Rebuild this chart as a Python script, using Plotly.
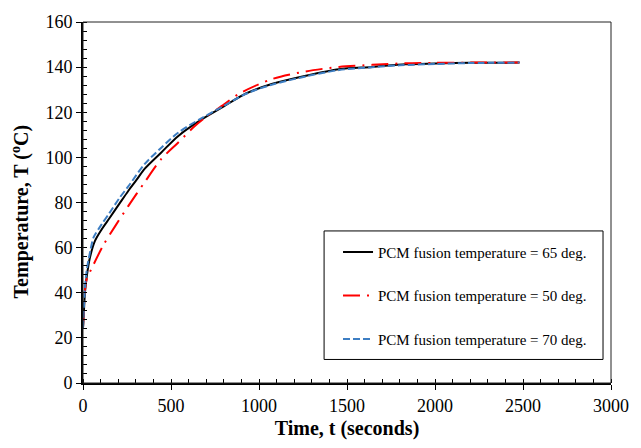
import plotly.graph_objects as go

# Data
t_65 = [0, 2, 6, 11, 21, 40, 68, 106, 150, 209, 256, 304, 351, 445, 540, 672, 800, 926, 1077, 1266, 1455, 1643, 1832, 2000, 2200, 2480]
T_65 = [24.5, 27, 33, 40, 47, 55.8, 63, 68.1, 73, 79.7, 85, 90, 95, 102.2, 109.4, 116.7, 122.6, 128.3, 132.6, 136.2, 139.1, 140.1, 141.3, 141.6, 141.9, 142]

t_50 = [0, 2, 6, 11, 21, 40, 115, 181, 256, 351, 445, 540, 634, 700, 800, 889, 1077, 1266, 1455, 1643, 1832, 2000, 2200, 2480]
T_50 = [24.5, 28, 35, 41, 46, 49.3, 61, 69.3, 78.3, 89.1, 99.3, 106.5, 113.8, 118, 123.4, 128.3, 134.8, 138.1, 140.1, 141, 141.7, 141.9, 142, 142]

t_70 = [0, 2, 6, 11, 21, 40, 60, 106, 150, 209, 256, 351, 445, 540, 672, 800, 926, 1077, 1266, 1455, 1643, 1800, 2000, 2200, 2480]
T_70 = [24.5, 28, 35, 42, 50, 58, 64.5, 70.3, 75.3, 82.2, 87, 97.1, 104.3, 110.9, 117.3, 122.8, 128.2, 132.3, 135.9, 138.7, 140, 140.8, 141.4, 141.8, 142]

names = ["PCM fusion temperature = 65 deg.",
         "PCM fusion temperature = 50 deg.",
         "PCM fusion temperature = 70 deg."]

FONT = "Liberation Serif"

fig = go.Figure()
fig.add_trace(go.Scatter(x=t_65, y=T_65, mode="lines", name=names[0], legendgroup="a",
                         line=dict(color="black", width=2, shape="spline", smoothing=0.8)))
fig.add_trace(go.Scatter(x=t_50, y=T_50, mode="lines", name=names[1], legendgroup="b",
                         line=dict(color="#FF0000", width=2, dash="17px,7px,2px,7px", shape="spline", smoothing=0.8)))
fig.add_trace(go.Scatter(x=t_70, y=T_70, mode="lines", name=names[2], legendgroup="c",
                         line=dict(color="#3D7EC3", width=2, dash="7px,3px", shape="spline", smoothing=0.8)))

fig.update_layout(
    width=641, height=448,
    margin=dict(l=83, r=28, t=17, b=63),
    paper_bgcolor="white", plot_bgcolor="white",
    font=dict(family=FONT, color="black", size=18),
    showlegend=True,
    legend=dict(x=0.483, y=0.4076, xanchor="left", yanchor="top",
                borderwidth=0, bgcolor="rgba(0,0,0,0)",
                font=dict(family=FONT, size=15, color="black"),
                tracegroupgap=21),
    shapes=[dict(type="rect", xref="paper", yref="paper", x0=0, y0=0, x1=1, y1=1,
                 line=dict(color="#222", width=1), layer="above"),
            dict(type="rect", xref="paper", yref="paper", x0=0.4566, y0=0.0652, x1=0.9849, y1=0.4212,
                 line=dict(color="black", width=1), fillcolor="white", layer="below")],
    annotations=[dict(text="<b>Temperature, T (<sup>o</sup>C)</b>", textangle=-90,
                      xref="paper", yref="paper", x=-0.119, y=0.473,
                      xanchor="center", yanchor="middle", showarrow=False,
                      font=dict(family=FONT, size=20, color="black"))],
)
fig.update_xaxes(range=[0, 3000], dtick=500, tick0=0, showgrid=False, zeroline=False,
                 showline=True, linecolor="black", linewidth=2,
                 ticks="outside", ticklen=5, tickwidth=1, tickcolor="black",
                 minor=dict(ticks="inside", dtick=100, ticklen=4, tickcolor="black", showgrid=False),
                 title=dict(text="<b>Time, t (seconds)</b>", font=dict(family=FONT, size=20), standoff=6),
                 tickfont=dict(family=FONT, size=18))
fig.update_yaxes(range=[0, 160], dtick=20, tick0=0, showgrid=False, zeroline=False,
                 showline=True, linecolor="black", linewidth=2,
                 ticks="outside", ticklen=5, tickwidth=1, tickcolor="black",
                 minor=dict(ticks="inside", dtick=4, ticklen=4, tickcolor="black", showgrid=False),
                 tickfont=dict(family=FONT, size=18))

fig.write_html("out.html")
